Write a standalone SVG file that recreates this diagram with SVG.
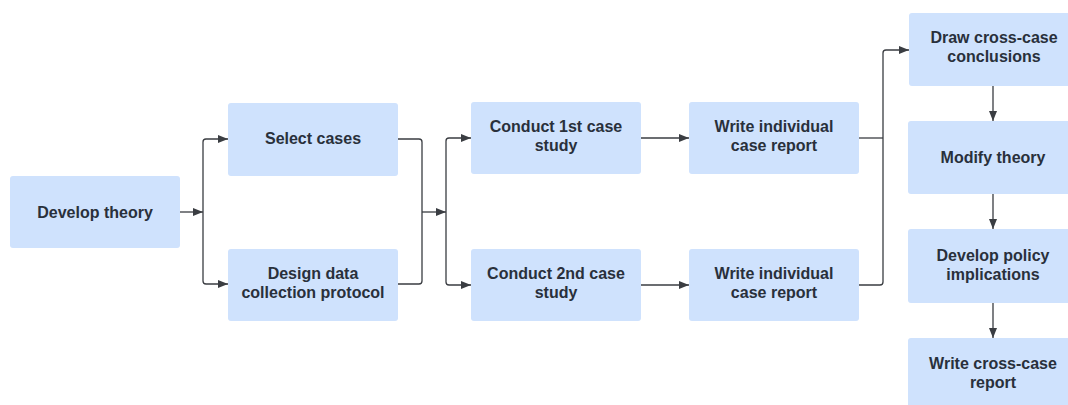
<svg xmlns="http://www.w3.org/2000/svg" width="1068" height="405" viewBox="0 0 1068 405">
  <style>
    .box { fill: #cfe2fd; }
    .lbl { font-family: "Liberation Sans", Arial, sans-serif; font-weight: bold; font-size: 16px; fill: #29303b; text-anchor: middle; dominant-baseline: central; }
    .edge { fill: none; stroke: #3a3d42; stroke-width: 1.3; }
    .arr { marker-end: url(#head); }
  </style>
  <defs>
    <marker id="head" viewBox="0 0 10 8" refX="10" refY="4" markerWidth="10" markerHeight="8" markerUnits="userSpaceOnUse" orient="auto">
      <path d="M0,0 L10,4 L0,8 Z" fill="#3a3d42"/>
    </marker>
  </defs>
  <rect width="1068" height="405" fill="#ffffff"/>

  <g id="connectors">
    <path class="edge arr" d="M180,212 H203"/>
    <path class="edge arr" d="M203,212 V142 Q203,139 206,139 H228"/>
    <path class="edge arr" d="M203,212 V281 Q203,284 206,284 H228"/>

    <path class="edge" d="M398,139 H419 Q422,139 422,142 V281 Q422,284 419,284 H398"/>
    <path class="edge arr" d="M422,212 H446"/>
    <path class="edge arr" d="M446,212 V141 Q446,138 449,138 H471"/>
    <path class="edge arr" d="M446,212 V282 Q446,285 449,285 H471"/>

    <path class="edge arr" d="M641,138 H689"/>
    <path class="edge arr" d="M641,285 H689"/>

    <path class="edge" d="M859,138 H883"/>
    <path class="edge arr" d="M859,285 H880 Q883,285 883,282 V53 Q883,50 886,50 H909"/>

    <path class="edge arr" d="M993,86 V121"/>
    <path class="edge arr" d="M993,194 V229"/>
    <path class="edge arr" d="M993,303 V338"/>
  </g>

  <g id="develop-theory">
    <rect class="box" x="10" y="176" width="170" height="72" rx="3"/>
    <text class="lbl" x="95" y="212">Develop theory</text>
  </g>
  <g id="select-cases">
    <rect class="box" x="228" y="103" width="170" height="73" rx="3"/>
    <text class="lbl" x="313" y="138">Select cases</text>
  </g>
  <g id="design-protocol">
    <rect class="box" x="228" y="249" width="170" height="72" rx="3"/>
    <text class="lbl" x="313" y="273">Design data</text>
    <text class="lbl" x="313" y="292">collection protocol</text>
  </g>
  <g id="conduct-1st">
    <rect class="box" x="471" y="102" width="170" height="72" rx="3"/>
    <text class="lbl" x="556" y="126">Conduct 1st case</text>
    <text class="lbl" x="556" y="145">study</text>
  </g>
  <g id="conduct-2nd">
    <rect class="box" x="471" y="249" width="170" height="72" rx="3"/>
    <text class="lbl" x="556" y="273">Conduct 2nd case</text>
    <text class="lbl" x="556" y="292">study</text>
  </g>
  <g id="report-1">
    <rect class="box" x="689" y="102" width="170" height="72" rx="3"/>
    <text class="lbl" x="774" y="126">Write individual</text>
    <text class="lbl" x="774" y="145">case report</text>
  </g>
  <g id="report-2">
    <rect class="box" x="689" y="249" width="170" height="72" rx="3"/>
    <text class="lbl" x="774" y="273">Write individual</text>
    <text class="lbl" x="774" y="292">case report</text>
  </g>
  <g id="cross-case-conclusions">
    <rect class="box" x="909" y="13" width="170" height="73" rx="3"/>
    <text class="lbl" x="994" y="37">Draw cross-case</text>
    <text class="lbl" x="994" y="56">conclusions</text>
  </g>
  <g id="modify-theory">
    <rect class="box" x="908" y="121" width="170" height="73" rx="3"/>
    <text class="lbl" x="993" y="157">Modify theory</text>
  </g>
  <g id="policy-implications">
    <rect class="box" x="908" y="229" width="170" height="74" rx="3"/>
    <text class="lbl" x="993" y="255">Develop policy</text>
    <text class="lbl" x="993" y="274">implications</text>
  </g>
  <g id="cross-case-report">
    <rect class="box" x="908" y="338" width="170" height="73" rx="3"/>
    <text class="lbl" x="993" y="363">Write cross-case</text>
    <text class="lbl" x="993" y="382">report</text>
  </g>
</svg>
